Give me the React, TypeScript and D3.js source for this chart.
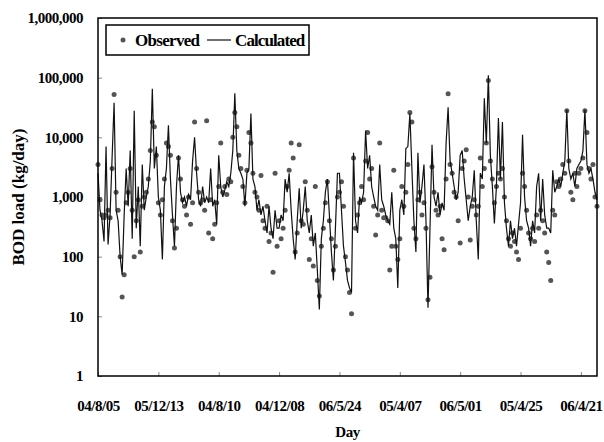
import { useRef, useEffect } from "react";
import * as d3 from "d3";

// day labels, one every 30 days
const dayLabels = ["04/8/05", "05/12/13", "04/8/10", "04/12/08", "06/5/24", "05/4/07", "06/5/01", "05/4/25", "06/4/21"];
const yTicks = [1, 10, 100, 1000, 10000, 100000, 1000000];

// calculated BOD load (kg/day)
const calculated = [
  2500, 600, 400, 180, 7000, 160, 500, 4500, 38000, 600, 400, 100, 50, 500, 3000, 700, 6000, 200, 28000, 300, 1500, 150, 3500, 600, 1000, 1500, 4000, 65000, 3000, 7000,
  1000, 600, 90, 1500, 3000, 16000, 2000, 500, 150, 1500, 5000, 1200, 800, 1000, 700, 1100, 900, 4000, 10000, 2500, 900, 700, 1500, 800, 1000, 800, 3000, 700, 900, 350,
  5000, 1500, 1000, 1300, 1800, 1500, 2500, 6000, 55000, 6000, 3000, 2500, 2000, 700, 2500, 3000, 25000, 2000, 1500, 600, 900, 500, 700, 400, 250, 700, 300, 200, 600, 300,
  300, 500, 400, 2000, 1200, 2500, 600, 200, 90, 400, 1400, 300, 600, 1500, 400, 250, 500, 150, 250, 60, 13, 200, 400, 1200, 2000, 500, 120, 40, 300, 2500,
  2500, 600, 150, 80, 40, 30, 25, 5500, 400, 250, 1000, 800, 1200, 13000, 3000, 5000, 1500, 1000, 700, 600, 3500, 900, 700, 500, 400, 350, 1200, 300, 200, 30,
  600, 900, 500, 6500, 7000, 25000, 3000, 400, 120, 5500, 800, 1500, 3500, 400, 14, 300, 7500, 1000, 700, 1200, 500, 800, 600, 8000, 32000, 4000, 2500, 1500, 900, 1200,
  5000, 6000, 2000, 900, 400, 700, 1000, 2800, 400, 90, 2500, 2000, 45000, 8000, 110000, 5000, 1500, 360, 1500, 21000, 2000, 18000, 800, 300, 150, 400, 200, 300, 150, 350,
  800, 11000, 1000, 400, 300, 150, 400, 250, 1500, 2500, 400, 2000, 500, 300, 300, 250, 2800, 1200, 1500, 2000, 1500, 2500, 4000, 29000, 3000, 2000, 2500, 1500, 3000, 3500,
  4000, 6000, 29000, 3500, 2500, 3000, 2000, 1200, 900,
];

// observed BOD load (kg/day)
const observed = [
  3500, 900, 500, 450, 500, 600, 450, 3000, 52000, 1200, 600, 100, 21, 50, 800, 1200, 3000, 600, 100, 400, 900, 120, 700, 1000, 1200, 2000, 6000, 18000, 15000, 5000,
  800, 500, 900, 2000, 8000, 7000, 5000, 400, 140, 300, 4500, 2000, 900, 700, 500, 1000, 350, 800, 18000, 3000, 1200, 800, 900, 600, 19000, 250, 900, 200, 350, 800,
  1500, 8000, 1200, 1500, 1100, 2000, 1800, 10000, 26000, 15000, 5000, 3000, 1500, 800, 2800, 12000, 8000, 2500, 1200, 1000, 600, 2300, 400, 300, 700, 180, 250, 55, 2500, 150,
  400, 200, 300, 600, 1500, 2800, 8000, 4500, 120, 250, 7500, 400, 350, 1800, 600, 90, 200, 70, 1500, 40, 22, 150, 300, 800, 1800, 400, 200, 60, 150, 1000,
  1200, 1800, 700, 100, 60, 25, 11, 4500, 300, 500, 800, 1500, 900, 4000, 12000, 2000, 3000, 700, 230, 500, 8000, 600, 450, 450, 400, 60, 150, 2800, 150, 90,
  200, 1500, 700, 1200, 3500, 26000, 18000, 300, 200, 900, 1200, 500, 800, 300, 19, 45, 3200, 1200, 600, 500, 700, 200, 130, 2000, 54000, 3500, 2500, 1200, 1000, 400,
  170, 3000, 4000, 6200, 1000, 190, 700, 900, 500, 700, 4500, 1500, 3000, 8000, 90000, 4000, 2000, 800, 1500, 2500, 2000, 3000, 1000, 400, 200, 150, 250, 180, 120, 90,
  300, 2500, 1500, 600, 250, 200, 300, 180, 500, 300, 600, 400, 250, 120, 80, 40, 600, 500, 1800, 1500, 2000, 3500, 2500, 28000, 4000, 1200, 900, 2500, 1500, 2500,
  3000, 4500, 28000, 12000, 3000, 2000, 3500, 1000, 700,
];

const W = 604;
const H = 442;
const FONT = "'Liberation Serif', 'Times New Roman', serif";

const App = () => {
  const svgRef = useRef<SVGSVGElement>(null);

  useEffect(() => {
    const svg = d3.select(svgRef.current);
    svg.selectAll("*").remove();

    const left = 98, right = 597, top = 18, bottom = 376;

    const x = d3.scaleLinear().domain([0, calculated.length - 1]).range([left, right]);
    const y = d3.scaleLog().domain([1, 1000000]).range([bottom, top]);

    // axes (ticks point inward)
    const yAxis = d3
      .axisLeft(y)
      .tickValues(yTicks)
      .tickFormat(d3.format(","))
      .tickSizeInner(-4)
      .tickSizeOuter(0)
      .tickPadding(15);

    const xAxis = d3
      .axisBottom(x)
      .tickValues(dayLabels.map((_, i) => i * 30))
      .tickFormat((d, i) => dayLabels[i])
      .tickSizeInner(-4)
      .tickSizeOuter(0)
      .tickPadding(24);

    const gy = svg.append("g").attr("transform", `translate(${left},0)`).call(yAxis);
    const gx = svg.append("g").attr("transform", `translate(0,${bottom})`).call(xAxis);

    [gx, gy].forEach((g) => {
      g.select(".domain").remove();
      g.selectAll(".tick line").attr("stroke", "#888");
      g.selectAll(".tick text")
        .attr("fill", "#000")
        .attr("font-family", FONT)
        .attr("font-weight", "bold")
        .attr("font-size", 15)
        .attr("letter-spacing", -0.5);
    });

    // data
    const line = d3
      .line<number>()
      .x((d, i) => x(i))
      .y((d) => y(d));

    svg
      .append("g")
      .selectAll("circle")
      .data(observed)
      .join("circle")
      .attr("cx", (d, i) => x(i))
      .attr("cy", (d) => y(d))
      .attr("r", 2.5)
      .attr("fill", "#555");

    svg
      .append("path")
      .datum(calculated)
      .attr("d", line)
      .attr("fill", "none")
      .attr("stroke", "#111")
      .attr("stroke-width", 1.2);

    // frame
    svg
      .append("rect")
      .attr("x", left)
      .attr("y", top)
      .attr("width", right - left)
      .attr("height", bottom - top)
      .attr("fill", "none")
      .attr("stroke", "#000")
      .attr("stroke-width", 1.5);

    // legend
    const lg = svg.append("g");
    lg.append("rect")
      .attr("x", 106)
      .attr("y", 25)
      .attr("width", 203)
      .attr("height", 30)
      .attr("fill", "#fff")
      .attr("stroke", "#000")
      .attr("stroke-width", 1.5);
    lg.append("circle").attr("cx", 123).attr("cy", 40).attr("r", 2.5).attr("fill", "#555");
    lg.append("text")
      .attr("x", 135)
      .attr("y", 46)
      .attr("font-family", FONT)
      .attr("font-weight", "bold")
      .attr("font-size", 17)
      .attr("letter-spacing", -0.7)
      .text("Observed");
    lg.append("line")
      .attr("x1", 207)
      .attr("x2", 231)
      .attr("y1", 40)
      .attr("y2", 40)
      .attr("stroke", "#111")
      .attr("stroke-width", 1.2);
    lg.append("text")
      .attr("x", 235)
      .attr("y", 46)
      .attr("font-family", FONT)
      .attr("font-weight", "bold")
      .attr("font-size", 17)
      .attr("letter-spacing", -0.9)
      .text("Calculated");

    // axis titles
    svg
      .append("text")
      .attr("x", (left + right) / 2)
      .attr("y", 437)
      .attr("text-anchor", "middle")
      .attr("font-family", FONT)
      .attr("font-weight", "bold")
      .attr("font-size", 15)
      .attr("letter-spacing", -0.5)
      .text("Day");

    svg
      .append("text")
      .attr("transform", `translate(24,${(top + bottom) / 2}) rotate(-90)`)
      .attr("text-anchor", "middle")
      .attr("font-family", FONT)
      .attr("font-weight", "bold")
      .attr("font-size", 17)
      .text("BOD load (kg/day)");
  }, []);

  return (
    <svg
      ref={svgRef}
      width={W}
      height={H}
      style={{ position: "absolute", left: 0, top: 0, background: "#fff" }}
    />
  );
};

export default App;
